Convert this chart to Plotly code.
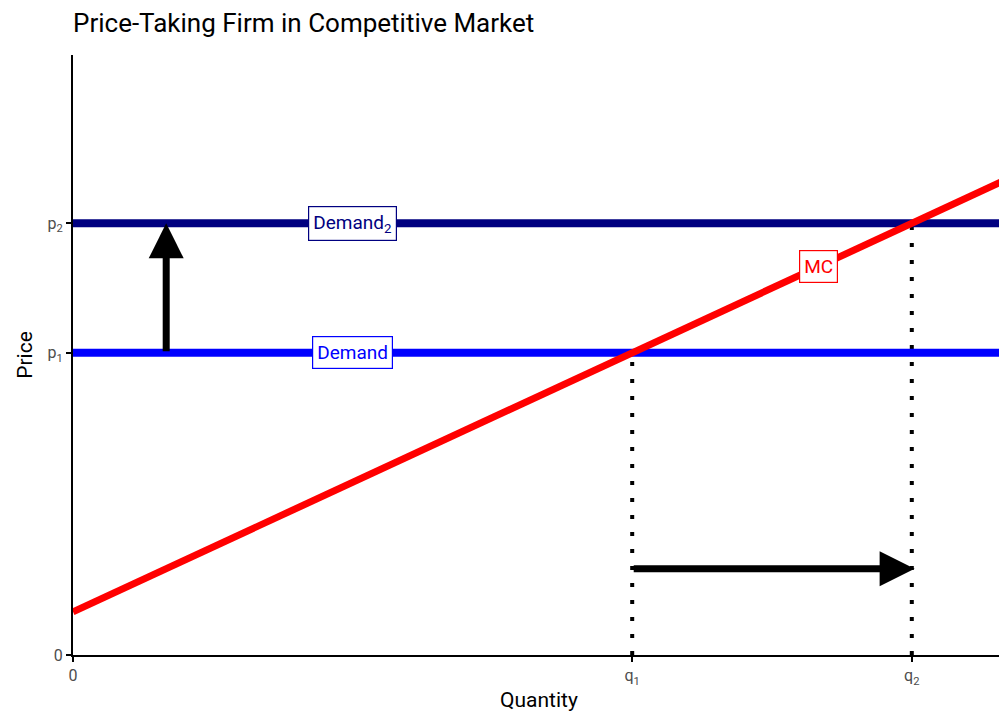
import plotly.graph_objects as go

# data
quantity = [0, 10]
mc_price = [1, 11]          # MC = 1 + q
demand_price = 7            # p1
demand2_price = 10          # p2
q1 = 6
q2 = 9
arrow_y = 2
arrow_x = 1
y_ticks = [0, 7, 10]
y_tick_labels = ["0", "p<sub>1</sub>", "p<sub>2</sub>"]
x_ticks = [0, 6, 9]
x_tick_labels = ["0", "q<sub>1</sub>", "q<sub>2</sub>"]

FONT = "Roboto"

fig = go.Figure()

# dotted guides
for qx, py in [(q1, demand_price), (q2, demand2_price)]:
    fig.add_trace(go.Scatter(x=[qx, qx], y=[0, py], mode="lines",
                             line=dict(color="black", width=4, dash="4px,13px"),
                             hoverinfo="skip", showlegend=False))

# demand curves
fig.add_trace(go.Scatter(x=quantity, y=[demand_price] * 2, mode="lines",
                         line=dict(color="#0000FF", width=8),
                         name="Demand", showlegend=False))
fig.add_trace(go.Scatter(x=quantity, y=[demand2_price] * 2, mode="lines",
                         line=dict(color="#000080", width=8),
                         name="Demand2", showlegend=False))

# marginal cost
fig.add_trace(go.Scatter(x=quantity, y=mc_price, mode="lines",
                         line=dict(color="#FF0000", width=7),
                         name="MC", showlegend=False))

# arrows
fig.add_annotation(x=arrow_x, y=demand2_price, ax=arrow_x, ay=demand_price,
                   xref="x", yref="y", axref="x", ayref="y",
                   showarrow=True, arrowhead=2, arrowsize=1.0, arrowwidth=7,
                   arrowcolor="black", text="")
fig.add_annotation(x=q2 + 0.03, y=arrow_y, ax=q1, ay=arrow_y,
                   xref="x", yref="y", axref="x", ayref="y",
                   showarrow=True, arrowhead=2, arrowsize=1.0, arrowwidth=7,
                   arrowcolor="black", text="")

# curve labels
labels = [
    (3, demand_price, "Demand", "#0000FF"),
    (3, demand2_price, "Demand<sub>2</sub>", "#000080"),
    (8, 9, "MC", "#FF0000"),
]
for lx, ly, txt, col in labels:
    fig.add_annotation(x=lx, y=ly, text=txt, showarrow=False,
                       font=dict(family=FONT, size=19, color=col),
                       bgcolor="white", bordercolor=col, borderwidth=1.2,
                       borderpad=4)

fig.update_layout(
    width=1007, height=722,
    title=dict(text="Price-Taking Firm in Competitive Market",
               x=65 / 1007, xanchor="left", y=1 - 15 / 722, yanchor="middle",
               font=dict(family=FONT, size=26, color="black")),
    paper_bgcolor="white", plot_bgcolor="white",
    font=dict(family=FONT, color="black"),
    margin=dict(l=65, r=10, t=47, b=75),
    xaxis=dict(range=[0, 10], showgrid=False, zeroline=False,
               showline=True, linecolor="black", linewidth=2,
               ticks="outside", ticklen=5, tickwidth=2, tickcolor="black",
               tickvals=x_ticks, ticktext=x_tick_labels,
               tickfont=dict(family=FONT, size=16, color="#4d4d4d"),
               title=dict(text="Quantity", font=dict(family=FONT, size=21), standoff=6)),
    yaxis=dict(range=[0, 13.9], showgrid=False, zeroline=False,
               showline=True, linecolor="black", linewidth=2,
               ticks="outside", ticklen=5, tickwidth=2, tickcolor="black",
               tickvals=y_ticks, ticktext=y_tick_labels,
               tickfont=dict(family=FONT, size=16, color="#4d4d4d"),
               title=dict(text="Price", font=dict(family=FONT, size=21), standoff=9)),
)

fig.write_html("out.html")
